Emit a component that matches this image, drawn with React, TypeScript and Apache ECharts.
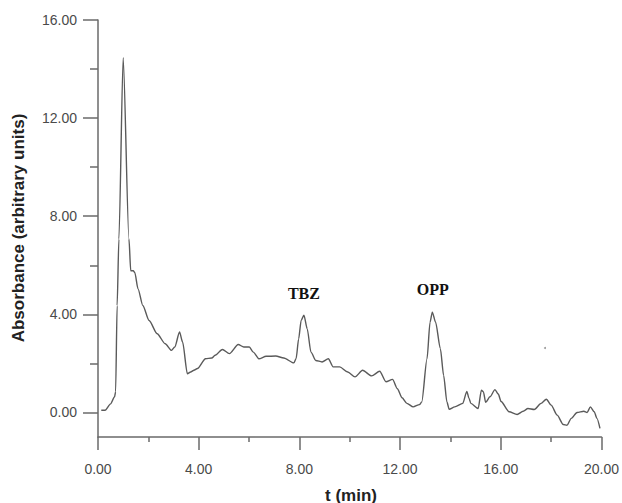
import React, { useEffect, useRef } from "react";
import * as echarts from "echarts";

// Retention time (min)
const timeMin = [
  0.13, 0.28, 0.5, 0.66, 0.7, 0.76, 0.83, 1.0, 1.23, 1.3, 1.4, 1.46, 1.59, 1.78,
  2.03, 2.35, 2.67, 2.92, 3.05, 3.24, 3.36, 3.55, 3.68, 3.81, 3.95, 4.27, 4.52,
  4.65, 4.94, 5.22, 5.57, 5.79, 6.01, 6.17, 6.39, 6.68, 7.06, 7.38, 7.78, 7.87,
  7.97, 8.07, 8.18, 8.31, 8.46, 8.65, 8.9, 9.15, 9.34, 9.6, 9.92, 10.21, 10.51,
  10.87, 11.19, 11.44, 11.7, 11.89, 12.08, 12.27, 12.52, 12.77, 12.86, 13.07,
  13.19, 13.28, 13.41, 13.6, 13.73, 13.86, 13.95, 14.17, 14.49, 14.65, 14.74,
  14.81, 15.1, 15.23, 15.31, 15.4, 15.57, 15.77, 15.9, 16.01, 16.33, 16.65,
  16.89, 17.08, 17.33, 17.6, 17.81, 18.0, 18.24, 18.48, 18.63, 18.8, 19.03,
  19.3, 19.43, 19.56, 19.71, 19.82, 19.94,
];

// Absorbance (arbitrary units)
const absorbance = [
  0.09, 0.09, 0.35, 0.64, 0.85, 4.36, 7.07, 14.46, 7.07, 5.78, 5.78, 5.71, 5.04,
  4.36, 3.75, 3.21, 2.8, 2.53, 2.67, 3.28, 2.87, 1.58, 1.65, 1.72, 1.79, 2.19,
  2.22, 2.33, 2.57, 2.4, 2.77, 2.67, 2.67, 2.46, 2.19, 2.29, 2.3, 2.22, 2.02,
  2.2, 3.0, 3.75, 3.97, 3.41, 2.46, 2.12, 2.06, 2.19, 1.86, 1.86, 1.65, 1.45,
  1.72, 1.49, 1.68, 1.25, 1.35, 0.97, 0.6, 0.37, 0.23, 0.32, 0.43, 2.19, 3.68,
  4.09, 3.68, 2.6, 1.51, 0.43, 0.13, 0.23, 0.37, 0.86, 0.57, 0.37, 0.16, 0.91,
  0.84, 0.41, 0.64, 0.93, 0.75, 0.45, 0.03, -0.08, 0.05, 0.16, 0.12, 0.37, 0.54,
  0.3, -0.11, -0.49, -0.52, -0.24, 0.0, 0.05, 0.0, 0.23, 0.03, -0.24, -0.65,
];

const xTickValues = [0, 4, 8, 12, 16, 20];
const yTickValues = [0, 4, 8, 12, 16];
const yMinorTickValues = [2, 6, 10, 14];

const peakNames = ["TBZ", "OPP"];
const peakTimes = [8.18, 13.3];
const peakLabelLevels = [4.83, 5.03];

const AXIS_COLOR = "#6a6a6a";
const LABEL_COLOR = "#4a4a4a";
const SANS = "'Liberation Sans', Arial, sans-serif";
const SERIF = "'Liberation Serif', 'Times New Roman', serif";

export default function App() {
  const ref = useRef<HTMLDivElement>(null);

  useEffect(() => {
    if (!ref.current) return;
    const chart = echarts.init(ref.current, null, { renderer: "svg" });
    const data = timeMin.map((t, i) => [t, absorbance[i]]);

    chart.setOption({
      animation: false,
      backgroundColor: "#ffffff",
      grid: { left: 98, right: 20, top: 20, bottom: 66, containLabel: false },
      xAxis: {
        type: "value",
        min: 0,
        max: 20,
        interval: 4,
        axisLine: { show: true, onZero: false, lineStyle: { color: AXIS_COLOR, width: 1.5 } },
        axisTick: {
          show: true,
          inside: false,
          length: 13,
          customValues: xTickValues,
          lineStyle: { color: AXIS_COLOR, width: 1.5 },
        },
        minorTick: {
          show: true,
          splitNumber: 2,
          length: 5,
          lineStyle: { color: AXIS_COLOR, width: 1.5 },
        },
        axisLabel: {
          customValues: xTickValues,
          margin: 25,
          color: LABEL_COLOR,
          fontSize: 14,
          fontFamily: SANS,
          formatter: (v: number) => v.toFixed(2),
        },
        splitLine: { show: false },
        minorSplitLine: { show: false },
      },
      yAxis: [
        {
          type: "value",
          min: -1,
          max: 16,
          position: "left",
          axisLine: { show: true, onZero: false, lineStyle: { color: AXIS_COLOR, width: 1.5 } },
          axisTick: {
            show: true,
            inside: false,
            length: 15,
            customValues: yTickValues,
            lineStyle: { color: AXIS_COLOR, width: 1.5 },
          },
          axisLabel: {
            customValues: yTickValues,
            margin: 21,
            color: LABEL_COLOR,
            fontSize: 14,
            fontFamily: SANS,
            formatter: (v: number) => v.toFixed(2),
          },
          splitLine: { show: false },
        },
        {
          type: "value",
          min: -1,
          max: 16,
          position: "left",
          offset: 0,
          axisLine: { show: false },
          axisTick: {
            show: true,
            inside: false,
            length: 8,
            customValues: yMinorTickValues,
            lineStyle: { color: AXIS_COLOR, width: 1.5 },
          },
          axisLabel: { show: false },
          splitLine: { show: false },
        },
      ],
      series: [
        {
          type: "line",
          data,
          xAxisIndex: 0,
          yAxisIndex: 0,
          showSymbol: false,
          symbol: "none",
          smooth: 0.25,
          smoothMonotone: "x",
          lineStyle: { color: "#5a5a5a", width: 1.4 },
          markPoint: {
            symbol: "circle",
            symbolSize: 0,
            silent: true,
            itemStyle: { color: "transparent" },
            label: {
              show: true,
              position: "inside",
              formatter: "{b}",
              color: "#111111",
              fontFamily: SERIF,
              fontWeight: "bold",
              fontSize: 16,
            },
            data: peakNames.map((n, i) => ({
              name: n,
              coord: [peakTimes[i], peakLabelLevels[i]],
            })),
          },
        },
      ],
      graphic: [
        {
          type: "text",
          x: 18,
          y: 228,
          rotation: Math.PI / 2,
          style: {
            text: "Absorbance (arbitrary units)",
            fill: "#222222",
            font: `bold 17px ${SANS}`,
            align: "center",
            verticalAlign: "middle",
          },
        },
        {
          type: "text",
          x: 351,
          y: 495,
          style: {
            text: "t (min)",
            fill: "#222222",
            font: `bold 17px ${SANS}`,
            align: "center",
            verticalAlign: "middle",
          },
        },
        {
          type: "circle",
          shape: { cx: 545, cy: 348, r: 1 },
          style: { fill: "#9a9a9a" },
        },
      ],
    });

    return () => chart.dispose();
  }, []);

  return (
    <div
      ref={ref}
      style={{ position: "fixed", left: 0, top: 0, width: 622, height: 503 }}
    />
  );
}
